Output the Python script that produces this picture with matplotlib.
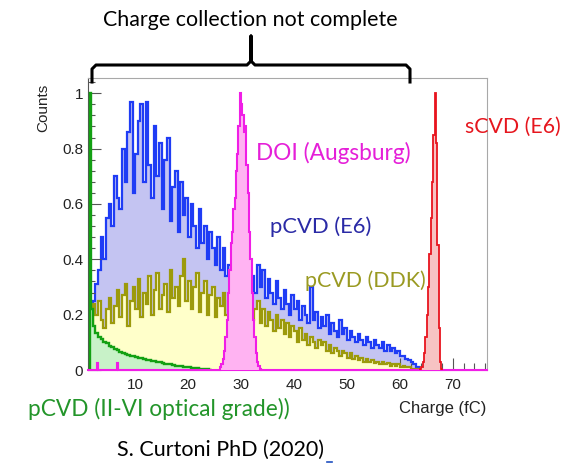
import numpy as np
import matplotlib
matplotlib.use("Agg")
import matplotlib.pyplot as plt
from matplotlib.lines import Line2D
from matplotlib.ticker import MultipleLocator

# ---- data (normalised counts per bin) ----
# pCVD (E6), 0.5 fC bins starting at 2.0 fC
blue_start = 2.0
blue_counts = [0.25, 0.31, 0.36, 0.48, 0.40, 0.55, 0.60, 0.52, 0.70, 0.62,
               0.58, 0.80, 0.68, 0.86, 0.97, 0.64, 0.78, 0.90, 0.96, 0.68,
               0.97, 0.74, 0.62, 0.88, 0.70, 0.82, 0.58, 0.76, 0.84, 0.54,
               0.66, 0.72, 0.50, 0.68, 0.56, 0.62, 0.48, 0.60, 0.52, 0.44,
               0.58, 0.46, 0.52, 0.40, 0.50, 0.44, 0.38, 0.48, 0.36, 0.44,
               0.34, 0.38, 0.32, 0.34, 0.30, 0.32, 0.29, 0.31, 0.28, 0.30,
               0.34, 0.28, 0.38, 0.30, 0.36, 0.26, 0.33, 0.28, 0.24, 0.32,
               0.26, 0.22, 0.29, 0.24, 0.20, 0.27, 0.22, 0.25, 0.18, 0.23,
               0.20, 0.17, 0.30, 0.18, 0.21, 0.15, 0.19, 0.16, 0.20, 0.13,
               0.17, 0.14, 0.12, 0.18, 0.13, 0.15, 0.11, 0.14, 0.12, 0.10,
               0.13, 0.11, 0.09, 0.12, 0.10, 0.08, 0.11, 0.09, 0.08, 0.10,
               0.07, 0.09, 0.07, 0.08, 0.06, 0.07, 0.05, 0.05, 0.04, 0.035,
               0.03, 0.02, 0.01, 0.005]

# pCVD (DDK), 0.5 fC bins starting at 2.0 fC
olive_start = 2.0
olive_counts = [0.24, 0.20, 0.25, 0.18, 0.15, 0.22, 0.26, 0.17, 0.23, 0.29,
                0.19, 0.27, 0.31, 0.16, 0.25, 0.30, 0.22, 0.33, 0.19, 0.28,
                0.24, 0.34, 0.20, 0.29, 0.35, 0.22, 0.27, 0.31, 0.21, 0.36,
                0.26, 0.30, 0.23, 0.34, 0.40, 0.25, 0.32, 0.22, 0.30, 0.35,
                0.21, 0.28, 0.32, 0.20, 0.27, 0.30, 0.19, 0.26, 0.23, 0.28,
                0.20, 0.25, 0.22, 0.24, 0.21, 0.23, 0.20, 0.22, 0.19, 0.23,
                0.18, 0.22, 0.25, 0.17, 0.22, 0.16, 0.21, 0.18, 0.14, 0.20,
                0.15, 0.18, 0.13, 0.17, 0.12, 0.16, 0.14, 0.10, 0.15, 0.11,
                0.13, 0.09, 0.12, 0.10, 0.08, 0.11, 0.09, 0.10, 0.07, 0.09,
                0.06, 0.08, 0.07, 0.05, 0.07, 0.06, 0.045, 0.06, 0.04, 0.05,
                0.035, 0.045, 0.03, 0.04, 0.03, 0.035, 0.025, 0.03, 0.02, 0.03,
                0.02, 0.025, 0.015, 0.02, 0.015, 0.02, 0.01, 0.015, 0.01, 0.01,
                0.005, 0.005, 0.003]

# pCVD (II-VI optical grade): narrow spike then 0.5 fC bins from 2.0
green_spike = (1.5, 1.75, 1.0)
green_first = (1.75, 2.0, 0.22)
green_start = 2.0
green_counts = [0.16, 0.135, 0.12, 0.112, 0.10, 0.096, 0.086, 0.082, 0.075, 0.072,
                0.066, 0.063, 0.058, 0.056, 0.052, 0.05, 0.047, 0.045, 0.042, 0.04,
                0.037, 0.036, 0.033, 0.031, 0.029, 0.028, 0.025, 0.023, 0.021, 0.02,
                0.018, 0.016, 0.015, 0.013, 0.012, 0.011, 0.01, 0.008, 0.007, 0.006,
                0.005, 0.004, 0.003, 0.002, 0.001]

# DOI (Augsburg), 0.25 fC bins starting at 26.0 fC
doi_start = 26.0
doi_counts = [0.01, 0.02, 0.04, 0.07, 0.12, 0.18, 0.28, 0.36, 0.46, 0.50,
              0.58, 0.62, 0.72, 0.78, 0.88, 1.00, 0.96, 0.92, 0.86, 0.88,
              0.74, 0.64, 0.50, 0.40, 0.28, 0.18, 0.12, 0.06, 0.03, 0.015,
              0.005, 0.0]
doi_small = [(2.75, 0.025), (6.5, 0.025)]

# sCVD (E6), 0.25 fC bins starting at 63.75 fC
red_start = 63.75
red_counts = [0.005, 0.01, 0.03, 0.06, 0.12, 0.20, 0.30, 0.42, 0.55, 0.68,
              0.85, 1.00, 0.82, 0.45, 0.15, 0.03, 0.005]

x_ticks = [10, 20, 30, 40, 50, 60, 70]
y_ticks = [0, 0.2, 0.4, 0.6, 0.8, 1]
y_tick_labels = ["0", "0.2", "0.4", "0.6", "0.8", "1"]

W, H = 576, 470
fig = plt.figure(figsize=(W / 100, H / 100), dpi=100)
ax = fig.add_axes([88 / W, 1 - 370 / H, (487 - 88) / W, (370 - 78) / H])


def edges(start, n, width):
    return start + width * np.arange(n + 1)


def hist(vals, e, line, fill, lw=1.0, z=1):
    ax.stairs(vals, e, fill=True, color=fill, zorder=z)
    ax.stairs(vals, e, color=line, lw=lw, zorder=z + 0.5)


# pCVD (E6)
hist(blue_counts, edges(blue_start, len(blue_counts), 0.5), "#1f3cf5", "#c4c4f2", lw=1.6, z=1)
# pCVD (DDK)
hist(olive_counts, edges(olive_start, len(olive_counts), 0.5), "#9c9a0c", "#ffffca", lw=1.6, z=2)
# pCVD (II-VI)
g_vals = [green_spike[2], green_first[2]] + green_counts
g_edges = np.concatenate([[green_spike[0], green_spike[1]],
                          edges(green_start, len(green_counts), 0.5)])
hist(g_vals, g_edges, "#13a013", "#c8f2c8", lw=1.7, z=3)

# DOI: full range, zero outside the peak
doi_e = np.arange(1.0, 76.5 + 0.001, 0.25)
doi_v = np.zeros(len(doi_e) - 1)
i0 = int(round((doi_start - 1.0) / 0.25))
doi_v[i0:i0 + len(doi_counts)] = doi_counts
for xs, v in doi_small:
    doi_v[int(round((xs - 1.0) / 0.25))] = v
ax.stairs(doi_v, doi_e, fill=True, color="#ffb3f2", zorder=4)
ax.stairs(doi_v, doi_e, color="#f01ee6", lw=1.5, zorder=4.5, clip_on=False)

# sCVD (E6)
hist(red_counts, edges(red_start, len(red_counts), 0.25), "#e8141e", "#f7c3c3", lw=1.3, z=5)

ax.set_xlim(1.1, 76.4)
ax.set_ylim(0, 1.055)
ax.set_xticks(x_ticks)
ax.set_yticks(y_ticks)
ax.set_yticklabels(y_tick_labels)
ax.xaxis.set_minor_locator(MultipleLocator(2))
ax.yaxis.set_minor_locator(MultipleLocator(0.04))
ax.tick_params(which="both", direction="in", colors="#555555", labelcolor="#222222",
               labelsize=11, top=False, right=False)
ax.tick_params(which="major", length=9, width=0.8)
ax.tick_params(which="minor", length=5, width=0.8)
ax.tick_params(axis="x", pad=6)
for lbl in ax.get_xticklabels() + ax.get_yticklabels():
    lbl.set_family("Liberation Sans")
for s in ["top", "right"]:
    ax.spines[s].set_color("#a8a8a8")
ax.spines["left"].set_color("#555555")
ax.spines["bottom"].set_color("#f01ee6")

fig.text(43 / W, 1 - 84 / H, "Counts", rotation=90, ha="center", va="top",
         fontsize=11, family="Liberation Sans", color="#222222")
fig.text(486 / W, 1 - 408 / H, "Charge (fC)", ha="right", va="center",
         fontsize=12, family="Liberation Sans", color="#222222")

slide = "Lato"
fig.text(250 / W, 1 - 20 / H, "Charge collection not complete", ha="center", va="center",
         fontsize=15.4, family=slide, color="black")
fig.text(256 / W, 1 - 153 / H, "DOI (Augsburg)", ha="left", va="center",
         fontsize=16.3, family=slide, color="#e51fd8")
fig.text(270 / W, 1 - 227 / H, "pCVD (E6)", ha="left", va="center",
         fontsize=15.8, family=slide, color="#2a2aa6")
fig.text(305 / W, 1 - 281 / H, "pCVD (DDK)", ha="left", va="center",
         fontsize=15.4, family=slide, color="#9a9a22")
fig.text(465 / W, 1 - 127 / H, "sCVD (E6)", ha="left", va="center",
         fontsize=15.3, family=slide, color="#e6161e")
fig.text(28 / W, 1 - 409 / H, "pCVD (II-VI optical grade))", ha="left", va="center",
         fontsize=16.3, family=slide, color="#23952a")
fig.text(117 / W, 1 - 450 / H, "S. Curtoni PhD (2020)", ha="left", va="center",
         fontsize=15.5, family=slide, color="black")
fig.add_artist(Line2D([327 / W, 332 / W], [1 - 462 / H, 1 - 462 / H],
                      color="#2050c0", lw=1.2))

# curly bracket over the incomplete-collection region
bx = [92, 92, 96, 247, 251, 251, 251, 255, 406, 410, 410]
by = [82, 69, 65, 65, 61, 36, 61, 65, 65, 69, 82]
fig.add_artist(Line2D([v / W for v in bx], [1 - v / H for v in by],
                      color="black", lw=2.2, solid_joinstyle="round"))

fig.savefig("out.png", dpi=100, facecolor="white")
